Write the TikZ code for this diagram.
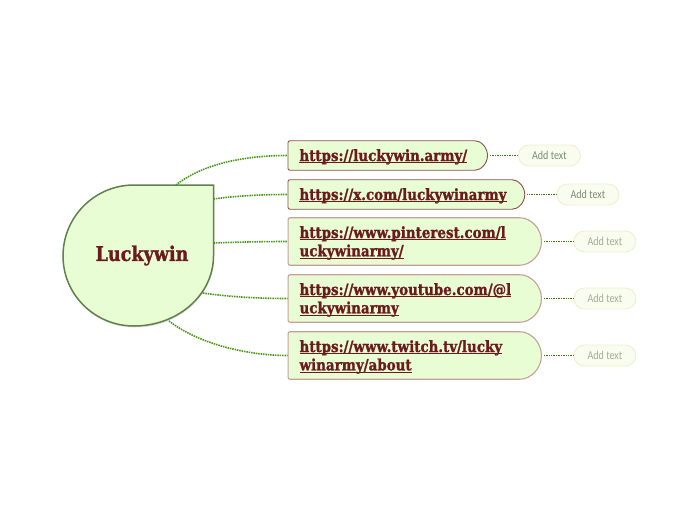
\documentclass[tikz,border=0pt]{standalone}
\usepackage{fontspec}
\setmainfont{DejaVu Serif}[BoldFont={DejaVu Serif Bold},BoldFeatures={FakeBold=1.2},FakeStretch=0.866]
\newfontfamily\notefont[FakeStretch=0.84]{Carlito}
\usepackage{tikz}
\usetikzlibrary{shapes.misc,shadows,positioning}
\definecolor{paleGreen}{RGB}{232, 253, 212}
\definecolor{rootEdge}{RGB}{96, 128, 76}
\definecolor{maroonText}{RGB}{107, 26, 30}
\definecolor{linkGreen}{RGB}{74, 150, 26}
\definecolor{noteFill}{RGB}{248, 253, 240}
\definecolor{noteEdge}{RGB}{243, 236, 200}
\definecolor{noteText}{RGB}{125, 140, 115}
\definecolor{darkEdge}{RGB}{140, 80, 80}
\definecolor{softEdge}{RGB}{196, 160, 152}
\newcommand{\linkline}[1]{\hspace*{11.5pt}\setbox0\hbox{#1}\rlap{\copy0}\rule[-2.4pt]{\wd0}{1.2pt}}
\begin{document}
\begin{tikzpicture}[x=1pt,y=-1pt,
    linkbox/.style={rounded rectangle,rounded rectangle west arc=none,rounded corners=2pt,fill=paleGreen,draw=darkEdge,line width=0.9pt,
        anchor=west,inner xsep=0pt,inner ysep=0pt,font=\bfseries\fontsize{15.5}{18.3}\selectfont,text=maroonText,align=left,
        minimum height=29.5pt,text height=13pt,text depth=2pt},
    softbox/.style={linkbox,draw=softEdge,line width=1.1pt,minimum height=47.5pt,text width=246.75pt,text depth=20pt},
    notebox/.style={rounded rectangle,fill=noteFill,draw=noteEdge,line width=0.8pt,minimum width=62pt,minimum height=21pt,
        inner sep=0pt,anchor=west,font=\notefont\fontsize{12}{14}\selectfont,text=noteText},
    rootlink/.style={draw=linkGreen,line width=1.6pt,dash pattern=on 1.5pt off 0.9pt},
    notelink/.style={draw=linkGreen!80!black,line width=0.9pt,dash pattern=on 1pt off 0.7pt,shorten <=2pt}
]
    \useasboundingbox (0,0) rectangle (697,520);
    % central bubble
    \draw[fill=paleGreen,draw=rootEdge,line width=1.5pt,drop shadow={opacity=0.25,shadow xshift=0.5pt,shadow yshift=-1.5pt}]
        (134,185) -- (213.5,185) -- (213.5,256) arc[start angle=0,end angle=-90,x radius=79.5,y radius=-70]
        arc[start angle=-90,end angle=-180,x radius=71,y radius=-70] arc[start angle=180,end angle=90,x radius=71,y radius=-71] -- cycle;
    \node[font=\bfseries\fontsize{20.3}{24}\selectfont,text=maroonText] (root) at (142,255.5) {Luckywin};
    \coordinate (rootA) at (176,185);
    \coordinate (rootB) at (213.5,199);
    \coordinate (rootC) at (213.5,243);
    \coordinate (rootD) at (203,293);
    \coordinate (rootE) at (169,321);

    \node[linkbox,text width=197.5pt] (army) at (287.5,155.5) {\linkline{https://luckywin.army/}};
    \node[linkbox,text width=234.75pt] (xcom) at (287.5,194.5) {\linkline{https://x.com/luckywinarmy}};
    \node[softbox] (pin) at (287.5,241.5) {\linkline{https://www.pinterest.com/l}\\\linkline{uckywinarmy/}};
    \node[softbox] (tube) at (287.5,298.5) {\linkline{https://www.youtube.com/@l}\\\linkline{uckywinarmy}};
    \node[softbox] (twitch) at (287.5,355.5) {\linkline{https://www.twitch.tv/lucky}\\\linkline{winarmy/about}};

    \node[notebox] (noteA) at (518,155.5) {Add text};
    \node[notebox] (noteB) at (556.5,194.5) {Add text};
    \node[notebox,text opacity=0.7] (noteC) at (573.5,241.5) {Add text};
    \node[notebox,text opacity=0.7] (noteD) at (573.5,298.5) {Add text};
    \node[notebox,text opacity=0.7] (noteE) at (573.5,355.5) {Add text};

    \draw[rootlink] (rootA) .. controls (205,162) and (250,155.5) .. (army.west);
    \draw[rootlink] (rootB) .. controls (235,196) and (260,194.5) .. (xcom.west);
    \draw[rootlink] (rootC) .. controls (240,242) and (265,241.5) .. (pin.west);
    \draw[rootlink] (rootD) .. controls (230,297) and (260,298.5) .. (tube.west);
    \draw[rootlink] (rootE) .. controls (200,345) and (250,355.5) .. (twitch.west);

    \draw[notelink] (army.east) -- (noteA.west);
    \draw[notelink] (xcom.east) -- (noteB.west);
    \draw[notelink] (pin.east) -- (noteC.west);
    \draw[notelink] (tube.east) -- (noteD.west);
    \draw[notelink] (twitch.east) -- (noteE.west);
\end{tikzpicture}
\end{document}
